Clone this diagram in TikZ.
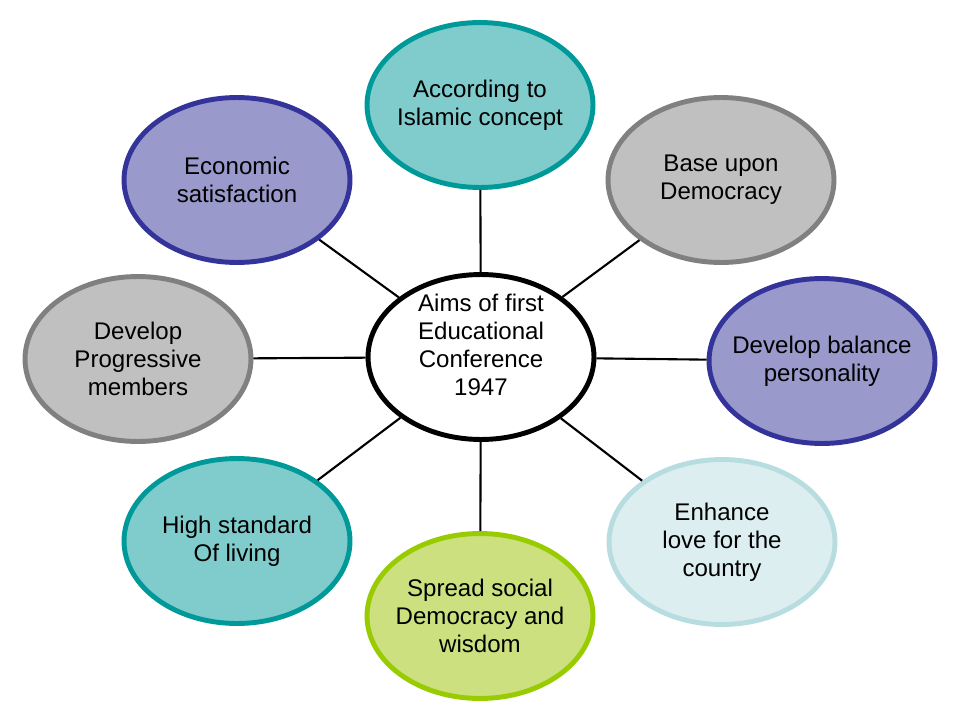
\documentclass[tikz,border=0pt]{standalone}
\usepackage{fontspec}
\setmainfont{Liberation Sans}
\usetikzlibrary{shapes.geometric}
\definecolor{aimTeal}{HTML}{80CCCC}
\definecolor{aimTealDk}{HTML}{009999}
\definecolor{aimGray}{HTML}{C0C0C0}
\definecolor{aimGrayDk}{HTML}{808080}
\definecolor{aimPurple}{HTML}{9999CC}
\definecolor{aimPurpleDk}{HTML}{333399}
\definecolor{aimIce}{HTML}{DDEEF0}
\definecolor{aimIceDk}{HTML}{B8DDE0}
\definecolor{aimLime}{HTML}{CCE080}
\definecolor{aimLimeDk}{HTML}{99CC00}
\begin{document}
\begin{tikzpicture}[
  x=0.02cm, y=-0.02cm,
  font=\fontsize{13.7}{15.9}\selectfont,
  aim/.style={ellipse,align=center,inner sep=-0.4cm,line width=2.8pt,
              minimum width=4.52cm,minimum height=3.3cm},
  teal/.style={aim,fill=aimTeal,draw=aimTealDk},
  grey/.style={aim,fill=aimGray,draw=aimGrayDk},
  violet/.style={aim,fill=aimPurple,draw=aimPurpleDk},
  ice/.style={aim,fill=aimIce,draw=aimIceDk},
  lime/.style={aim,fill=aimLime,draw=aimLimeDk},
  spoke/.style={line width=1.2pt,black},
]
\useasboundingbox (0,0) rectangle (960,720);
\node[aim,fill=white,draw=black] (hub) at (481,357)
  {\raisebox{0pt}[\height][\dimexpr\depth+10pt]{\begin{tabular}{@{}c@{}}Aims of first\\Educational\\Conference\\1947\end{tabular}}};

\node[teal]   (islam)   at (480,105) {According to\\Islamic concept};
\node[grey]   (demo)    at (721,180) {Base upon\\Democracy};
\node[violet] (balance) at (822,361) {Develop balance\\personality};
\node[ice]    (love)    at (722,542) {Enhance\\love for the\\country};
\node[lime]   (spread)  at (480,616) {Spread social\\Democracy and\\wisdom};
\node[teal]   (living)  at (237,541) {High standard\\Of living};
\node[grey]   (members) at (138,359) {Develop\\Progressive\\members};
\node[violet] (econ)    at (237,180) {Economic\\satisfaction};

% spokes from the hub
\foreach \n in {islam,demo,balance,love,spread,living,members,econ}
  \draw[spoke] (hub) -- (\n);
\end{tikzpicture}
\end{document}
